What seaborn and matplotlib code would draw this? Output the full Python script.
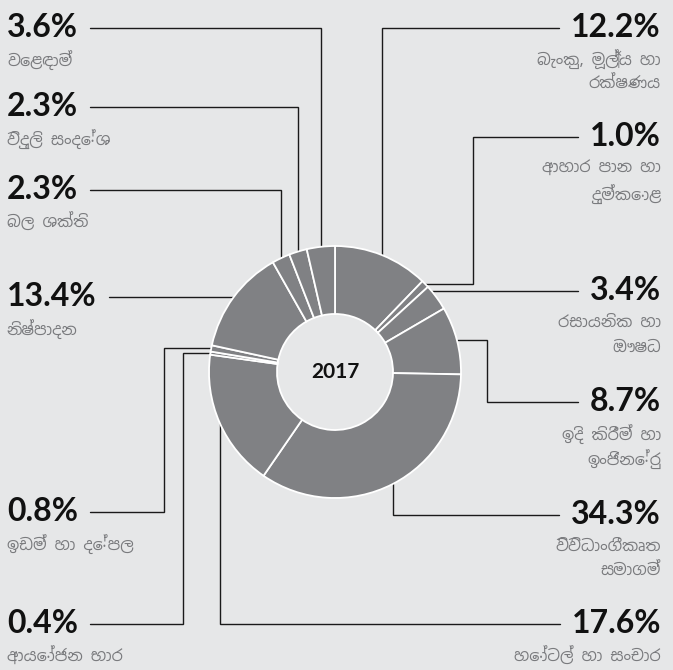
import matplotlib
matplotlib.use("Agg")
import matplotlib.pyplot as plt
import seaborn as sns
import numpy as np

# shares, clockwise from 12 o'clock
shares = [12.2, 1.0, 3.4, 8.7, 34.3, 17.6, 0.4, 0.8, 13.4, 2.3, 2.3, 3.6]
pct_labels = ['12.2%', '1.0%', '3.4%', '8.7%', '34.3%', '17.6%',
              '0.4%', '0.8%', '13.4%', '2.3%', '2.3%', '3.6%']
sectors = [
    ['බැංකු, මූල්‍ය හා', 'රක්ෂණය'],
    ['ආහාර පාන හා', 'දුම්කොළ'],
    ['රසායනික හා', 'ඖෂධ'],
    ['ඉදි කිරීම් හා', 'ඉංජිනේරු'],
    ['විවිධාංගීකෘත', 'සමාගම්'],
    ['හෝටල් හා සංචාර'],
    ['ආයෝජන භාර'],
    ['ඉඩම් හා දේපල'],
    ['නිෂ්පාදන'],
    ['බල ශක්ති'],
    ['විදුලි සංදේශ'],
    ['වෙළඳාම්'],
]
year = '2017'

# layout (pixels from top-left): side, label line y, leader style, elbow x
side = ['r', 'r', 'r', 'r', 'r', 'r', 'l', 'l', 'l', 'l', 'l', 'l']
line_y = [28, 137, 291, 402, 515, 624, 624, 512, 297, 190, 107, 28]
style = ['v', 'e', 'h', 'e', 'v', 'v', 'e', 'e', 'h', 'v', 'v', 'v']
elbow_x = [0, 473, 0, 487, 0, 0, 183, 164, 0, 0, 0, 0]

W, H = 673, 670
cx, cy, R, r_in = 335, 372, 126, 58
bg = '#e6e7e8'
grey = '#808184'

sns.set_theme(style='white', rc={'figure.facecolor': bg, 'axes.facecolor': bg})
plt.rcParams['font.family'] = ['Lato', 'DejaVu Sans']
sin_font = ['Noto Sans Sinhala', 'Noto Sans', 'DejaVu Sans']

fig = plt.figure(figsize=(W / 100, H / 100), dpi=100)
ax = fig.add_axes([0, 0, 1, 1])


def Y(py):
    return H - py


wedges, _ = ax.pie(shares, startangle=90, counterclock=False, radius=R,
                   center=(cx, Y(cy)), colors=[grey] * len(shares),
                   wedgeprops=dict(width=R - r_in, edgecolor='white', linewidth=1.3))
ax.set_xlim(0, W)
ax.set_ylim(0, H)
ax.set_aspect('equal')
ax.axis('off')

ax.text(cx, Y(cy), year, ha='center', va='center', fontsize=15,
        fontweight='bold', color='#111111')

txt_objs = []
for i in range(len(shares)):
    ly = line_y[i]
    if side[i] == 'r':
        x, ha = 661, 'right'
    else:
        x, ha = 7, 'left'
    t = ax.text(x, Y(ly + 9), pct_labels[i], ha=ha, va='baseline', fontsize=23,
                fontweight='bold', color='#111111')
    txt_objs.append(t)
    for j, s in enumerate(sectors[i]):
        ax.text(x, Y(ly + 32 + 25 * j), s, ha=ha, va='center', fontsize=11.5,
                family=sin_font, color='#7a7b7e')

fig.canvas.draw()
rend = fig.canvas.get_renderer()
lc = '#1a1a1a'
for i, w in enumerate(wedges):
    mid = np.deg2rad((w.theta1 + w.theta2) / 2)
    mx = cx + R * np.cos(mid)
    my = cy - R * np.sin(mid)
    bb = txt_objs[i].get_window_extent(rend)
    ly = line_y[i]
    x0 = bb.x0 - 12 if side[i] == 'r' else bb.x1 + 12
    if style[i] == 'v':
        pts = [(x0, ly), (mx, ly), (mx, my)]
    elif style[i] == 'h':
        dx = np.sqrt(max(R ** 2 - (ly - cy) ** 2, 0))
        ex = cx + dx if side[i] == 'r' else cx - dx
        pts = [(x0, ly), (ex, ly)]
    else:
        pts = [(x0, ly), (elbow_x[i], ly), (elbow_x[i], my), (mx, my)]
    xs = [p[0] for p in pts]
    ys = [Y(p[1]) for p in pts]
    ax.plot(xs, ys, color=lc, lw=1.0, solid_joinstyle='miter', zorder=0)

fig.savefig('out.png', dpi=100, facecolor=bg)
